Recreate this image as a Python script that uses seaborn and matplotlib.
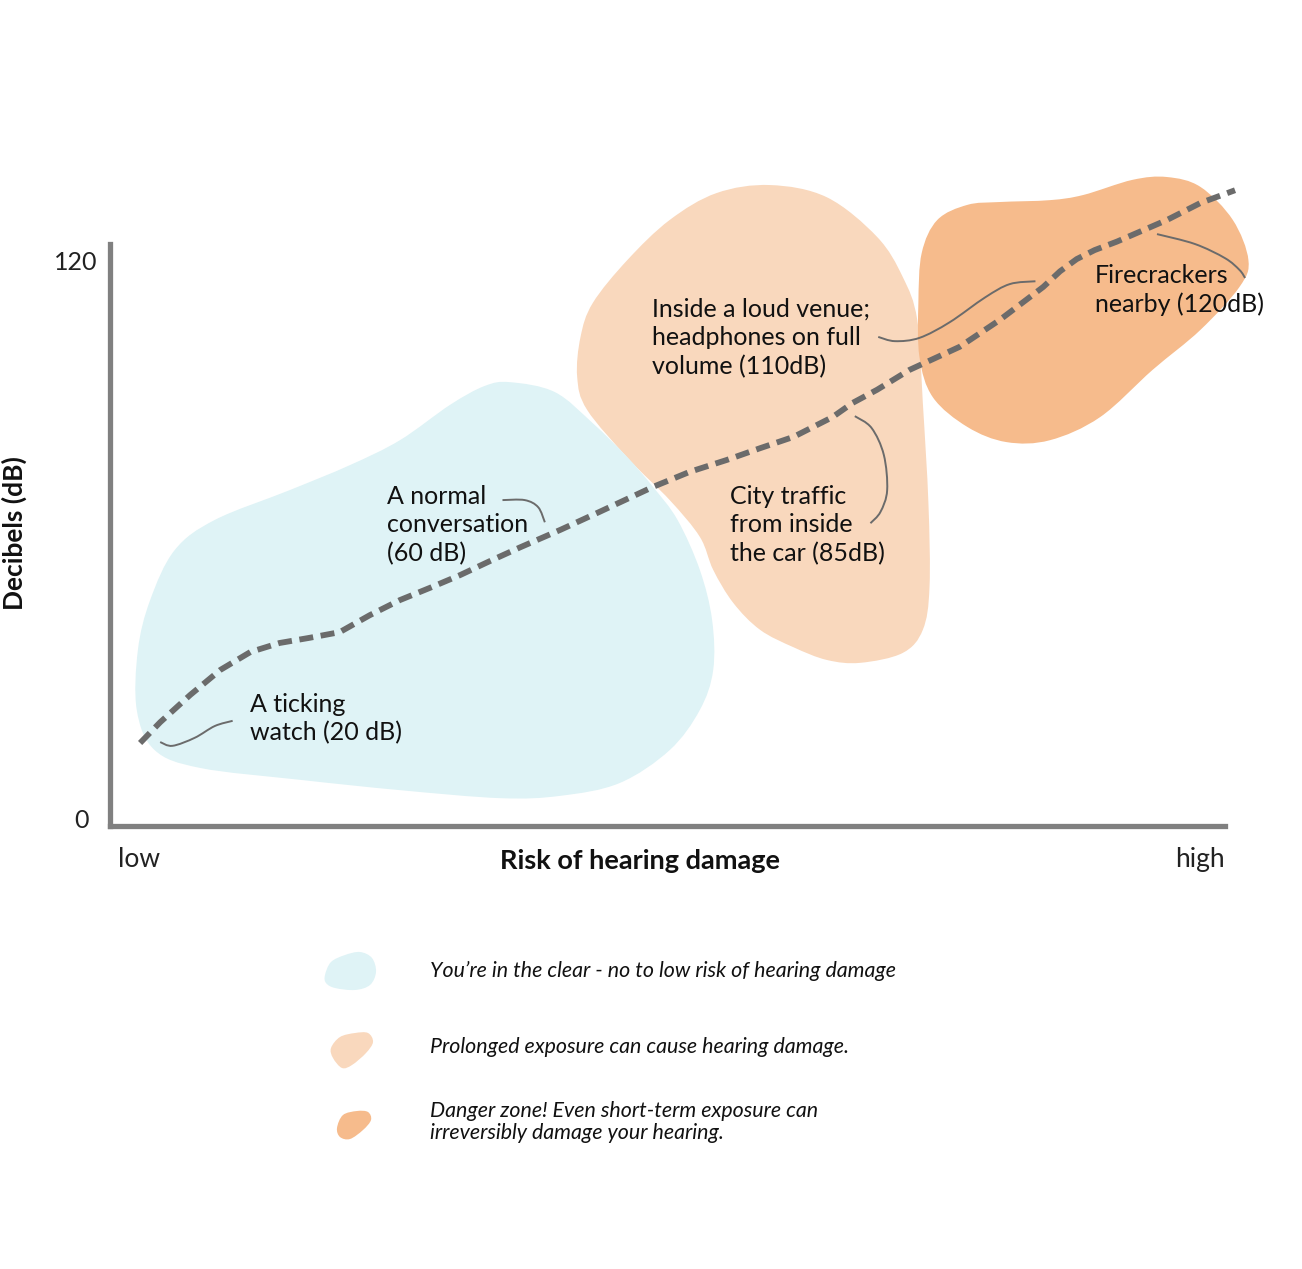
import matplotlib
matplotlib.use("Agg")
import matplotlib.pyplot as plt
import matplotlib.transforms as mtransforms
import seaborn as sns
from matplotlib.path import Path
from matplotlib.patches import PathPatch

# dashed trend line: risk (0 = low, 100 = high) vs decibels
risk = [2.7, 4.5, 7.2, 9.9, 12.6, 15.2, 17.9, 20.6, 23.3, 26.0, 28.7, 31.4, 34.1,
        36.8, 40.4, 43.9, 48.7, 52.0, 55.3, 58.3, 61.3, 64.8, 66.6, 68.8, 71.7,
        76.2, 79.8, 83.7, 85.2, 86.7, 88.3, 90.3, 94.8, 97.8, 100.9]
decibels = [17.6, 22.0, 27.8, 33.1, 36.9, 38.8, 39.9, 41.1, 44.7, 47.9, 50.5, 53.2,
            56.2, 59.1, 62.8, 66.6, 71.9, 75.1, 77.6, 80.1, 82.5, 86.7, 89.7, 92.5,
            96.7, 101.6, 107.3, 114.3, 117.6, 120.2, 122.1, 123.9, 128.5, 132.1, 134.8]

# zone outlines (risk, dB)
blue_x = [35.9, 39.9, 43.3, 46.4, 48.7, 50.9, 52.9, 54.0, 54.1, 52.9, 50.2, 45.7, 40.4,
          35.0, 26.0, 17.0, 8.1, 4.0, 2.4, 2.5, 3.6, 5.8, 9.4, 16.1, 21.5, 26.0, 30.5, 33.6]
blue_y = [94.1, 92.0, 85.4, 78.2, 71.9, 64.9, 54.3, 43.7, 33.1, 24.6, 16.1, 9.1, 6.4,
          5.9, 7.6, 9.8, 12.3, 16.1, 24.6, 37.3, 47.9, 58.5, 64.9, 71.2, 76.5, 81.8, 89.3, 93.3]
peach_x = [59.2, 64.3, 68.8, 71.1, 72.4, 72.9, 73.4, 73.5, 72.9, 71.1, 67.3, 64.3, 61.3,
           58.3, 55.9, 54.1, 52.9, 50.2, 46.6, 42.8, 41.9, 42.2, 43.3, 46.4, 50.2, 54.4]
peach_y = [135.9, 133.3, 124.9, 116.4, 107.3, 89.7, 68.5, 50.7, 41.6, 36.7, 34.6, 35.2, 37.9,
           41.6, 47.3, 54.3, 61.3, 69.1, 77.6, 88.2, 95.2, 103.7, 110.9, 120.0, 128.5, 134.2]
orange_x = [74.2, 76.9, 79.8, 84.3, 87.3, 91.7, 94.8, 97.8, 100.7, 102.1, 101.3, 97.8,
            93.5, 88.8, 84.3, 80.4, 76.9, 73.8, 72.6, 72.5, 72.8]
orange_y = [128.5, 131.7, 132.3, 132.7, 133.8, 137.0, 137.6, 135.5, 128.5, 120.0, 114.3, 105.2,
            96.7, 86.7, 81.8, 81.4, 84.6, 90.9, 99.4, 110.9, 121.5]

# annotations
labels = ["A ticking\nwatch (20 dB)", "A normal\nconversation\n(60 dB)",
          "Inside a loud venue;\nheadphones on full\nvolume (110dB)",
          "City traffic\nfrom inside\nthe car (85dB)", "Firecrackers\nnearby (120dB)"]
label_x = [12.6, 24.8, 48.6, 55.6, 88.3]
label_y = [22.7, 63.8, 103.5, 63.8, 113.6]
leaders = [
    ([4.5, 5.6, 7.6, 9.4, 11.0], [17.8, 17.0, 18.7, 21.2, 22.3]),
    ([35.2, 37.2, 38.4, 39.0], [69.1, 69.1, 67.6, 64.4]),
    ([68.9, 70.4, 72.6, 75.3, 78.5, 80.7, 83.0], [103.7, 102.8, 103.5, 106.8, 112.1, 114.9, 115.5]),
    ([66.8, 68.3, 69.4, 69.7, 69.1, 68.2], [86.9, 84.4, 78.7, 71.2, 66.6, 64.2]),
    ([93.9, 97.3, 100.0, 101.3, 101.8], [125.5, 123.4, 120.4, 117.9, 116.2]),
]

legend_texts = ["You\u2019re in the clear - no to low risk of hearing damage",
                "Prolonged exposure can cause hearing damage.",
                "Danger zone! Even short-term exposure can\nirreversibly damage your hearing."]

BLUE = "#dff3f6"
PEACH = "#f9d8bd"
ORANGE = "#f6bb8c"
LINE = "#6b6b6b"


def smooth_path(xs, ys, closed=True):
    pts = list(zip(xs, ys))
    n = len(pts)
    verts = [pts[0]]
    codes = [Path.MOVETO]
    segs = n if closed else n - 1
    for i in range(segs):
        p0 = pts[(i - 1) % n] if (closed or i > 0) else pts[0]
        p1 = pts[i]
        p2 = pts[(i + 1) % n]
        p3 = pts[(i + 2) % n] if (closed or i + 2 < n) else pts[-1]
        c1 = (p1[0] + (p2[0] - p0[0]) / 6, p1[1] + (p2[1] - p0[1]) / 6)
        c2 = (p2[0] - (p3[0] - p1[0]) / 6, p2[1] - (p3[1] - p1[1]) / 6)
        verts += [c1, c2, p2]
        codes += [Path.CURVE4] * 3
    return Path(verts, codes)


sns.set_theme(style="white")
plt.rcParams["font.family"] = ["Lato", "DejaVu Sans"]

fig = plt.figure(figsize=(13.02, 12.69), dpi=100)
ax = fig.add_axes([110 / 1302, 443 / 1269, 1115 / 1302, 582 / 1269])
ax.set_facecolor("none")

for xs, ys, col in [(peach_x, peach_y, PEACH), (blue_x, blue_y, BLUE), (orange_x, orange_y, ORANGE)]:
    ax.add_patch(PathPatch(smooth_path(xs, ys), facecolor=col, edgecolor="none", clip_on=False, zorder=1))

for xs, ys in leaders:
    ax.add_patch(PathPatch(smooth_path(xs, ys, closed=False), facecolor="none",
                           edgecolor="#6b6b6b", lw=1.4, clip_on=False, zorder=3))

sns.lineplot(x=risk, y=decibels, ax=ax, color=LINE, linewidth=4.2, zorder=4)
line = ax.lines[-1]
line.set_linestyle((0, (2.4, 1.3)))
line.set_clip_on(False)

for txt, x, y in zip(labels, label_x, label_y):
    ax.text(x, y, txt, fontsize=18, color="#111111", ha="left", va="center",
            linespacing=1.28, zorder=5)

ax.set_xlim(0, 100)
ax.set_ylim(0, 123.4)
for s in ["top", "right"]:
    ax.spines[s].set_visible(False)
for s in ["left", "bottom"]:
    ax.spines[s].set_color("#808080")
    ax.spines[s].set_linewidth(3.8)

ax.set_yticks([0, 120])
ax.set_yticklabels(["0", "120"], fontsize=18, color="#222222")
ax.set_xticks([0, 100])
ax.set_xticklabels(["low", "high"], fontsize=19, color="#222222")
ax.tick_params(axis="y", length=0, pad=9)
ax.tick_params(axis="x", length=0, pad=15)
lo, hi = ax.get_xticklabels()
lo.set_ha("left")
hi.set_ha("right")
lo.set_transform(lo.get_transform() + mtransforms.ScaledTranslation(0.08, 0, fig.dpi_scale_trans))
zero = ax.get_yticklabels()[0]
zero.set_transform(zero.get_transform() + mtransforms.ScaledTranslation(-0.09, 0.08, fig.dpi_scale_trans))
ax.set_xlabel("Risk of hearing damage", fontsize=19.5, fontweight="bold", color="#111111")
ax.xaxis.set_label_coords(0.475, -0.04)
fig.text(14 / 1302, 1 - 533 / 1269, "Decibels (dB)", rotation=90, fontsize=19,
         fontweight="bold", color="#111111", ha="center", va="center")

# legend drawn in pixel space
lg = fig.add_axes([0, 0, 1, 1], zorder=-1)
lg.set_xlim(0, 1302)
lg.set_ylim(1269, 0)
lg.axis("off")
icons = [
    ([325, 331, 345, 360, 372, 376, 370, 355, 335, 326], [975, 962, 955, 952, 958, 972, 985, 990, 988, 983], BLUE),
    ([331, 340, 355, 368, 373, 366, 352, 342, 333], [1048, 1037, 1033, 1033, 1042, 1053, 1065, 1068, 1058], PEACH),
    ([337, 343, 357, 368, 371, 363, 350, 340], [1128, 1115, 1111, 1112, 1120, 1130, 1139, 1137], ORANGE),
]
for xs, ys, col in icons:
    lg.add_patch(PathPatch(smooth_path(xs, ys), facecolor=col, edgecolor="none"))
for txt, y in zip(legend_texts, [971, 1047, 1122]):
    lg.text(430, y, txt, fontsize=15.4, style="italic", color="#111111", ha="left",
            va="center", linespacing=1.15)

fig.savefig("out.png", dpi=100)
